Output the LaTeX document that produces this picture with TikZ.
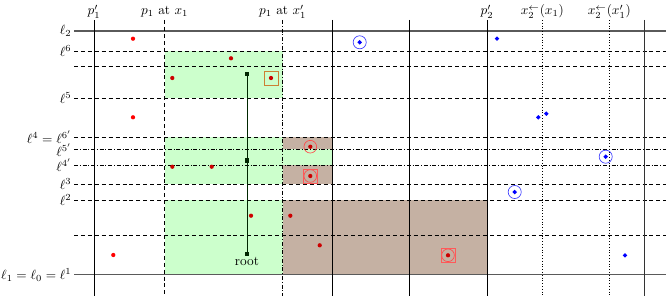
\documentclass[tikz,border=0pt]{standalone}
\usetikzlibrary{shapes.geometric}
\definecolor{lgreen}{RGB}{204,255,204}
\definecolor{lbrown}{RGB}{197,177,163}
\definecolor{gline}{RGB}{90,90,90}
\begin{document}
\begin{tikzpicture}[x=0.75pt,y=-0.75pt,
  solidg/.style={draw=gline,line width=1.1pt},
  vsolid/.style={draw=black,line width=0.6pt},
  hdash/.style={draw=black,line width=0.6pt,dash pattern=on 3pt off 2.2pt},
  hdashdot/.style={draw=black,line width=0.6pt,dash pattern=on 3pt off 1.4pt on 0.6pt off 1.4pt},
  vdot/.style={draw=black,line width=0.6pt,dash pattern=on 0.6pt off 1.5pt},
  rdot/.style={circle,fill=red,inner sep=0pt,minimum size=3.2pt},
  rdotd/.style={circle,fill=red!80!black,inner sep=0pt,minimum size=3.2pt},
  bdia/.style={diamond,fill=blue,inner sep=0pt,minimum size=3.6pt},
  bcirc/.style={circle,draw=blue!75,line width=0.5pt,inner sep=0pt,minimum size=9.8pt},
  rcirc/.style={circle,draw=red!70,line width=0.5pt,inner sep=0pt,minimum size=9.5pt},
  rsq/.style={rectangle,draw=red!65,line width=0.6pt,inner sep=0pt,minimum size=10.5pt},
  bsq/.style={rectangle,draw=brown!80!orange,line width=0.6pt,inner sep=0pt,minimum size=10.5pt},
  tsq/.style={rectangle,fill=black!85!green,inner sep=0pt,minimum size=3.2pt},
  lbl/.style={anchor=east,inner sep=1pt},
  tlbl/.style={anchor=base,inner sep=0pt}]
\useasboundingbox (0,0) rectangle (666,296);
% fills
\fill[lgreen] (164.7,51) rectangle (282.7,98);
\fill[lgreen] (164.7,137) rectangle (282.7,184.3);
\fill[lgreen] (282.7,149.3) rectangle (332,165);
\fill[lbrown] (282.7,137) rectangle (332,149.3);
\fill[lbrown] (282.7,165) rectangle (332,184.3);
\fill[lgreen] (164.7,200) rectangle (282.7,274.7);
\fill[lbrown] (282.7,200) rectangle (487,274.7);
% horizontal lines
\draw[solidg] (74,31) -- (666,31);
\draw[hdash] (74,51) -- (666,51);
\draw[hdash] (74,66) -- (666,66);
\draw[hdash] (74,98) -- (666,98);
\draw[hdash] (74,137) -- (666,137);
\draw[hdashdot] (74,149.3) -- (666,149.3);
\draw[hdashdot] (74,165) -- (666,165);
\draw[hdash] (74,184.3) -- (666,184.3);
\draw[hdash] (74,200) -- (666,200);
\draw[hdash] (74,235.3) -- (666,235.3);
\draw[solidg] (74,274.7) -- (666,274.7);
% vertical lines
\draw[vsolid] (94,20) -- (94,296);
\draw[hdash] (164.7,20) -- (164.7,296);
\draw[hdashdot] (282.7,20) -- (282.7,296);
\draw[vsolid] (332,20) -- (332,296);
\draw[vsolid] (409,20) -- (409,296);
\draw[vsolid] (487,20) -- (487,296);
\draw[vdot] (542.3,20) -- (542.3,296);
\draw[vdot] (609.3,20) -- (609.3,296);
\draw[vsolid,draw=black!80] (644.7,20) -- (644.7,296);
% top labels
\node[tlbl] (tp1) at (94,15) {$p'_1$};
\node[tlbl] (tp1x) at (164.7,15) {$p_1$ at $x_1$};
\node[tlbl] (tp1xp) at (282.7,15) {$p_1$ at $x'_1$};
\node[tlbl] (tp2) at (487,15) {$p'_2$};
\node[tlbl] (tx2) at (542.3,15) {$x_2^{\leftarrow}(x_1)$};
\node[tlbl] (tx2p) at (609.3,15) {$x_2^{\leftarrow}(x'_1)$};
% left labels
\node[lbl] (l2) at (73,31) {$\ell_2$};
\node[lbl] (l6) at (73,51) {$\ell^6$};
\node[lbl] (l5) at (73,98) {$\ell^5$};
\node[lbl] (l4) at (73,137) {$\ell^4=\ell^{6'}$};
\node[lbl] (l5p) at (73,150) {$\ell^{5'}$};
\node[lbl] (l4p) at (73,165) {$\ell^{4'}$};
\node[lbl] (l3) at (73,184.3) {$\ell^3$};
\node[lbl] (l2u) at (73,200) {$\ell^2$};
\node[lbl] (l1) at (73,274.7) {$\ell_1=\ell_0=\ell^1$};
% tree path
\node[tsq] (t1) at (247,74) {};
\node[tsq] (t2) at (247,160.5) {};
\node[tsq] (root) at (247,254) {};
\draw[line width=0.6pt,black!85!green] (t1) -- (t2) -- (root);
\node[anchor=north,inner sep=1pt] (rootlbl) at (247,256) {root};
% red points
\node[rdot] (r1) at (133,38.7) {};
\node[rdotd] (r2) at (231,58.3) {};
\node[rdotd] (r3) at (172.3,78) {};
\node[rdotd] (r4) at (271,78) {};
\node[bsq] (r4s) at (271,78) {};
\node[rdot] (r5) at (133,117.3) {};
\node[rdotd] (r6) at (172.3,166.7) {};
\node[rdotd] (r7) at (211.7,166.7) {};
\node[rdotd] (r8) at (310.3,146.7) {};
\node[rcirc] (r8c) at (310.3,146.7) {};
\node[rdotd] (r9) at (310.3,176) {};
\node[rcirc] (r9c) at (310.3,176) {};
\node[rsq] (r9s) at (310.3,176) {};
\node[rdotd] (r10) at (251,215.7) {};
\node[rdotd] (r11) at (290.3,215.7) {};
\node[rdotd] (r12) at (319.7,245.3) {};
\node[rdot] (r13) at (113.3,255) {};
\node[rdotd] (r14) at (448,255.3) {};
\node[rcirc] (r14c) at (448,255.3) {};
\node[rsq] (r14s) at (448,255.3) {};
% blue points
\node[bdia] (b1) at (359.7,42.3) {};
\node[bcirc] (b1c) at (359.7,42.3) {};
\node[bdia] (b2) at (497,38.7) {};
\node[bdia] (b3) at (538.3,117.3) {};
\node[bdia] (b4) at (546.3,113.7) {};
\node[bdia] (b5) at (605.7,156.7) {};
\node[bcirc] (b5c) at (605.7,156.7) {};
\node[bdia] (b6) at (514.7,192) {};
\node[bcirc] (b6c) at (514.7,192) {};
\node[bdia] (b7) at (625,255.3) {};
\end{tikzpicture}
\end{document}
